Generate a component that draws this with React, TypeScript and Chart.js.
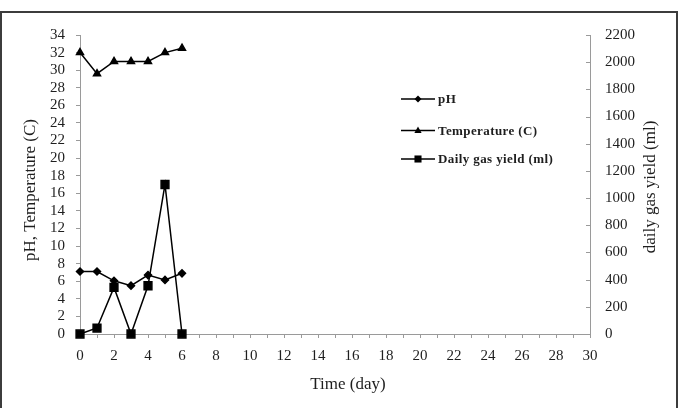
import React, { useEffect, useRef } from "react";
import { Chart, registerables } from "chart.js";

Chart.register(...registerables);

// Measurements per day of digestion
const days = [0, 1, 2, 3, 4, 5, 6];
const phValues = [7.1, 7.1, 6.05, 5.5, 6.7, 6.15, 6.9];
const temperatureValues = [32, 29.6, 31, 31, 31, 32, 32.5];
const gasYieldValues = [0, 44, 343, 0, 355, 1100, 0];

const seriesLabels = ["pH", "Temperature (C)", "Daily gas yield (ml)"];
const leftAxisTitle = "pH, Temperature (C)";
const rightAxisTitle = "daily gas yield (ml)";
const xAxisTitle = "Time (day)";

const SERIF = "'Liberation Serif', 'Times New Roman', serif";
const AXIS_GREY = "#9a9a9a";
const INK = "#1e1e1e";

const toPoints = (vals: number[]) => days.map((d, i) => ({ x: d, y: vals[i] }));

function drawMarker(ctx: CanvasRenderingContext2D, style: string, x: number, y: number, r: number) {
  ctx.beginPath();
  if (style === "rectRot") {
    ctx.moveTo(x, y - r);
    ctx.lineTo(x + r, y);
    ctx.lineTo(x, y + r);
    ctx.lineTo(x - r, y);
  } else if (style === "triangle") {
    ctx.moveTo(x, y - r);
    ctx.lineTo(x + r * 0.9, y + r * 0.6);
    ctx.lineTo(x - r * 0.9, y + r * 0.6);
  } else {
    const s = r * Math.SQRT1_2;
    ctx.rect(x - s, y - s, 2 * s, 2 * s);
  }
  ctx.closePath();
  ctx.fill();
}

const decorations = {
  id: "decorations",
  afterDraw(chart: any) {
    const { ctx, chartArea } = chart;
    const yRight = chart.scales.y1;
    ctx.save();

    // outer frame
    ctx.strokeStyle = "#3c3c3c";
    ctx.lineWidth = 2;
    ctx.beginPath();
    ctx.moveTo(1, 408);
    ctx.lineTo(1, 12);
    ctx.lineTo(677, 12);
    ctx.lineTo(677, 408);
    ctx.stroke();

    // inward tick marks on the secondary axis
    ctx.strokeStyle = AXIS_GREY;
    ctx.lineWidth = 1;
    ctx.beginPath();
    yRight.ticks.forEach((t: any) => {
      const py = Math.round(yRight.getPixelForValue(t.value)) + 0.5;
      ctx.moveTo(chartArea.right - 4, py);
      ctx.lineTo(chartArea.right, py);
    });
    ctx.stroke();

    // axis titles
    ctx.fillStyle = INK;
    ctx.font = `17px ${SERIF}`;
    ctx.textAlign = "center";
    ctx.textBaseline = "middle";
    ctx.fillText(xAxisTitle, 348, 385);

    ctx.save();
    ctx.translate(31, 190);
    ctx.rotate(-Math.PI / 2);
    ctx.fillText(leftAxisTitle, 0, 0);
    ctx.restore();

    ctx.save();
    ctx.translate(651, 187);
    ctx.rotate(-Math.PI / 2);
    ctx.fillText(rightAxisTitle, 0, 0);
    ctx.restore();

    // legend
    const rows = [99, 130.5, 159];
    ctx.font = `bold 13px ${SERIF}`;
    (ctx as any).letterSpacing = "0.4px";
    ctx.textAlign = "left";
    chart.data.datasets.forEach((ds: any, i: number) => {
      const y = rows[i];
      ctx.strokeStyle = "#000";
      ctx.lineWidth = 1.5;
      ctx.beginPath();
      ctx.moveTo(401, y);
      ctx.lineTo(435, y);
      ctx.stroke();
      ctx.fillStyle = "#000";
      drawMarker(ctx, ds.pointStyle, 418, y, ds.pointStyle === "rect" ? 5 : ds.pointRadius);
      ctx.fillStyle = INK;
      ctx.fillText(ds.label, 438, y + 1);
    });
    ctx.restore();
  },
};

export default function App() {
  const canvasRef = useRef<HTMLCanvasElement | null>(null);

  useEffect(() => {
    if (!canvasRef.current) return;
    const tickFont = { family: SERIF, size: 15 };
    const chart = new Chart(canvasRef.current, {
      type: "line",
      data: {
        datasets: [
          {
            label: seriesLabels[0],
            data: toPoints(phValues),
            yAxisID: "y",
            borderColor: "#000",
            backgroundColor: "#000",
            borderWidth: 1.5,
            pointStyle: "rectRot",
            pointRadius: 3.5,
            clip: false,
          },
          {
            label: seriesLabels[1],
            data: toPoints(temperatureValues),
            yAxisID: "y",
            borderColor: "#000",
            backgroundColor: "#000",
            borderWidth: 1.5,
            pointStyle: "triangle",
            pointRadius: 4,
            clip: false,
          },
          {
            label: seriesLabels[2],
            data: toPoints(gasYieldValues),
            yAxisID: "y1",
            borderColor: "#000",
            backgroundColor: "#000",
            borderWidth: 1.5,
            pointStyle: "rect",
            pointRadius: 5.5,
            clip: false,
          },
        ],
      },
      options: {
        responsive: false,
        animation: false,
        devicePixelRatio: 1,
        layout: { padding: { top: 35, left: 0, right: 0, bottom: 0 } },
        plugins: { legend: { display: false }, tooltip: { enabled: false } },
        scales: {
          x: {
            type: "linear",
            min: 0,
            max: 30,
            afterFit: (s: any) => {
              s.height = 74;
            },
            border: { color: AXIS_GREY, width: 1 },
            grid: { drawOnChartArea: false, color: AXIS_GREY, tickLength: 4 },
            ticks: {
              stepSize: 1,
              autoSkip: false,
              maxRotation: 0,
              padding: 9,
              color: INK,
              font: tickFont,
              callback: (v: any) => (Number(v) % 2 === 0 ? String(v) : ""),
            },
          },
          y: {
            position: "left",
            min: 0,
            max: 34,
            afterFit: (s: any) => {
              s.width = 80;
            },
            border: { color: AXIS_GREY, width: 1 },
            grid: { drawOnChartArea: false, color: AXIS_GREY, tickLength: 4 },
            ticks: {
              stepSize: 2,
              autoSkip: false,
              padding: 11,
              color: INK,
              font: tickFont,
              callback: (v: any) => String(v),
            },
          },
          y1: {
            position: "right",
            min: 0,
            max: 2200,
            afterFit: (s: any) => {
              s.width = 91;
            },
            border: { color: AXIS_GREY, width: 1 },
            grid: { drawOnChartArea: false, drawTicks: false },
            ticks: {
              stepSize: 200,
              autoSkip: false,
              padding: 15,
              color: INK,
              font: tickFont,
              callback: (v: any) => String(v),
            },
          },
        },
      },
      plugins: [decorations],
    });
    return () => chart.destroy();
  }, []);

  return (
    <div style={{ position: "absolute", left: 0, top: 0, width: 681, height: 408, background: "#fff" }}>
      <canvas ref={canvasRef} width={681} height={408} />
    </div>
  );
}
